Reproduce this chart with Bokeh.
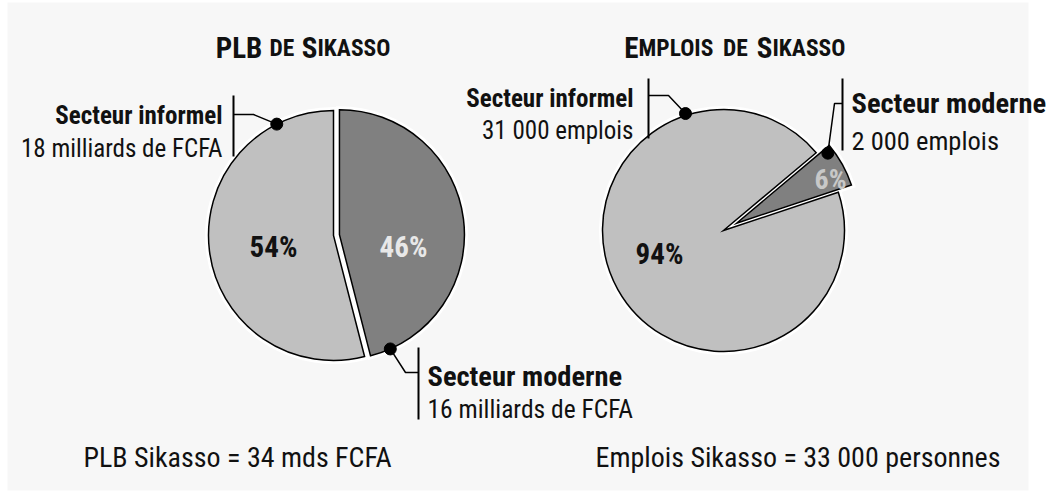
import math
from bokeh.plotting import figure
from bokeh.models import Range1d
from bokeh.core.properties import value
from bokeh.embed import file_html
from bokeh.resources import INLINE

# ---------------- data ----------------
plb_sectors = ["Secteur informel", "Secteur moderne"]
plb_amounts = ["18 milliards de FCFA", "16 milliards de FCFA"]
plb_values = [18, 16]          # milliards de FCFA
plb_pct = [54, 46]             # % shown on the chart

emp_sectors = ["Secteur informel", "Secteur moderne"]
emp_amounts = ["31 000 emplois", "2 000 emplois"]
emp_values = [31000, 2000]     # emplois
emp_pct = [94, 6]

totals = ["PLB Sikasso = 34 mds FCFA", "Emplois Sikasso = 33 000 personnes"]

# ---------------- styling ----------------
W, H = 1048, 493
FONT = "'Roboto Condensed', 'DejaVu Sans Condensed', sans-serif"
LIGHT, DARK = "#c0c0c0", "#808080"
INK = "#111111"

def Y(py):
    return H - py

p = figure(width=W, height=H, output_backend="svg", toolbar_location=None,
           x_range=Range1d(0, W), y_range=Range1d(0, H), min_border=0)
p.axis.visible = False
p.grid.visible = False
p.outline_line_color = None
p.background_fill_color = "white"
p.border_fill_color = "white"

# panel background
p.quad(left=[7], right=[1028], bottom=[Y(490)], top=[Y(2)], color="#f7f7f7", line_color=None)


def draw_pie(cx, cy, r, pcts, start_deg, explode, colors):
    """Draw pie in pixel coords (cy measured from top). Returns slice geometry."""
    geo = []
    a = start_deg
    for pct, ex in zip(pcts, explode):
        span = pct / 100.0 * 360.0
        mid = math.radians(a + span / 2)
        ox = cx + ex * math.cos(mid)
        oy = cy - ex * math.sin(mid)
        geo.append((ox, oy, a, a + span))
        a += span
    for (ox, oy, s, e) in geo:
        p.wedge(x=[ox], y=[Y(oy)], radius=r, start_angle=math.radians(s), end_angle=math.radians(e),
                fill_color=None, line_color="white", line_width=7, line_join="miter")
    for (ox, oy, s, e), col in zip(geo, colors):
        p.wedge(x=[ox], y=[Y(oy)], radius=r, start_angle=math.radians(s), end_angle=math.radians(e),
                fill_color=col, line_color="black", line_width=1.5, line_join="miter")
    return geo


def on_arc(g, r, ang):
    ox, oy, s, e = g
    return ox + r * math.cos(math.radians(ang)), oy - r * math.sin(math.radians(ang))


def txt(x, y, s, size, bold=False, color=INK, align="left"):
    p.text(x=[x], y=[Y(y)], text=[s], text_font=value(FONT), text_font_size=value(f"{size}px"),
           text_font_style="bold" if bold else "normal", text_color=color,
           text_align=align, text_baseline="alphabetic")


def leader(pts, bar_x, bar_y0, bar_y1, dot):
    xs = [q[0] for q in pts]
    ys = [Y(q[1]) for q in pts]
    p.line(xs, ys, line_color="black", line_width=1.5)
    p.line([bar_x, bar_x], [Y(bar_y0), Y(bar_y1)], line_color="black", line_width=2)
    p.scatter([dot[0]], [Y(dot[1])], size=12, color="black")


# ---------------- left pie : PLB ----------------
R1 = 125
g1 = draw_pie(333, 235, R1, plb_pct, 90, [0, 6], [LIGHT, DARK])
txt(273, 246, f"{plb_pct[0]}%", 29, bold=True, align="center")
txt(403, 246, f"{plb_pct[1]}%", 29, bold=True, color="#e8e8e8", align="center")

d = on_arc(g1[0], R1, 117)
leader([d, (253, 114), (233, 114)], 233, 95, 156, d)
txt(222, 115, plb_sectors[0], 25, bold=True, align="right")
txt(222, 148, plb_amounts[0], 25, align="right")

d = on_arc(g1[1], R1, -66)
leader([d, (405, 372), (418, 372)], 418, 347, 419, d)
txt(427, 376, plb_sectors[1], 28.5, bold=True)
txt(427, 408, plb_amounts[1], 25.5)

# ---------------- right pie : Emplois ----------------
R2 = 121
g2 = draw_pie(723, 230, R2, emp_pct, 40, [0, 15], [LIGHT, DARK])
txt(659, 253, f"{emp_pct[0]}%", 29, bold=True, align="center")
txt(830, 179, f"{emp_pct[1]}%", 28, bold=True, color="#c8c8c8", align="center")

d = on_arc(g2[0], R2 + 2, 108)
leader([d, (668, 95), (648, 95)], 648, 78, 138, d)
txt(633, 98, emp_sectors[0], 25, bold=True, align="right")
txt(633, 130, emp_amounts[0], 25, align="right")

d = on_arc(g2[1], R2 - 6, 37.5)
leader([d, (834, 103), (842, 103)], 842, 78, 150, d)
txt(851, 103, emp_sectors[1], 28.5, bold=True)
txt(851, 140, emp_amounts[1], 26.5)

# ---------------- titles (small caps) ----------------
def title(pieces, base=47):
    for x, s, big, align in pieces:
        txt(x, base, s, 29 if big else 23.5, bold=True, align=align)

title([(238.5, "PLB", True, "center"), (281.5, "DE", False, "center"),
       (317, "S", True, "right"), (317, "IKASSO", False, "left")])
title([(638, "E", True, "right"), (638, "MPLOIS", False, "left"), (735, "DE", False, "center"),
       (772, "S", True, "right"), (772, "IKASSO", False, "left")])

# ---------------- totals ----------------
txt(83, 457, totals[0], 28)
txt(1000, 457, totals[1], 28, align="right")

open("out.html", "w").write(file_html(p, INLINE))
